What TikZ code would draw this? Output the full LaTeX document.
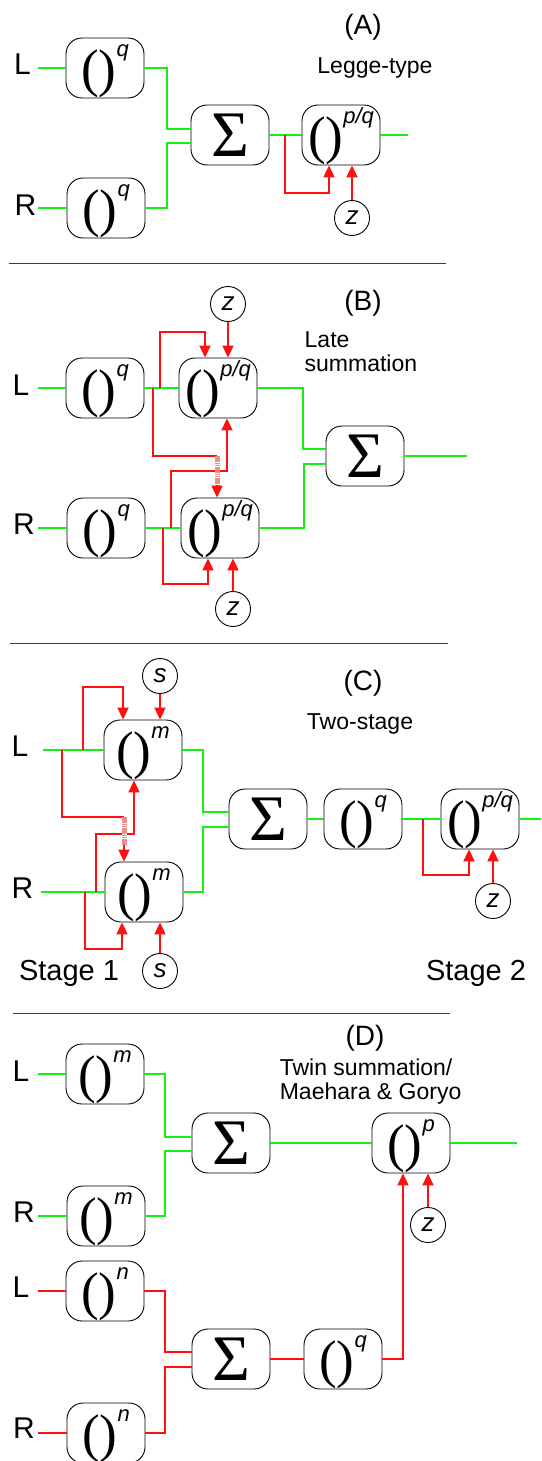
\documentclass[tikz,border=0pt]{standalone}
\usepackage{fontspec}
\setmainfont{Liberation Sans}
\newfontfamily\serf{Liberation Serif}
\usetikzlibrary{arrows.meta,calc}
\definecolor{lgreen}{RGB}{20,240,20}
\definecolor{lred}{RGB}{255,15,15}
\definecolor{hatchpink}{RGB}{240,140,130}
\definecolor{sepgray}{RGB}{60,60,60}
\newcommand\pw[1]{\raisebox{-18.5pt}{\serf\fontsize{53}{53}\selectfont()}\raisebox{11.5pt}{\fontsize{22}{22}\selectfont\itshape #1}}
\begin{document}
\begin{tikzpicture}[x=1pt,y=-1pt,
 bx/.style={draw, line width=0.9pt, rounded corners=16pt, minimum width=78pt, minimum height=60pt, inner sep=0pt, text height=0pt, text depth=0pt},
 sbx/.style={draw, line width=0.9pt, rounded corners=16pt, minimum width=78pt, minimum height=60pt, inner sep=0pt, font=\serf\fontsize{65}{65}\selectfont},
 cir/.style={draw, circle, line width=0.9pt, minimum size=35pt, inner sep=0pt, font=\fontsize{26}{26}\selectfont\itshape},
 lab/.style={inner sep=0pt, font=\fontsize{30}{30}\selectfont},
 head/.style={inner sep=0pt, font=\fontsize{28}{28}\selectfont},
 desc/.style={inner sep=0pt, font=\fontsize{23}{24}\selectfont, align=left},
 stg/.style={inner sep=0pt, font=\fontsize{29}{29}\selectfont},
 gl/.style={draw=lgreen, line width=2pt},
 rl/.style={draw=lred, line width=2pt},
 ra/.style={rl, -{Triangle[length=12pt,width=11pt]}},
 hat/.style={preaction={draw=white,line width=5pt}, draw=hatchpink, line width=5pt, dash pattern=on 1.5pt off 0.7pt},
 sep/.style={draw=sepgray, line width=1pt}
]
\fill[white] (0,0) rectangle (541,1461);
\useasboundingbox (0,0) rectangle (541,1461);

% ---------- Panel A ----------
\node[head] (hA) at (363,27) {(A)};
\node[desc] (dA) at (375,68) {Legge-type};
\node[lab] (LA) at (22.5,64) {L};
\node[lab] (RA) at (25.5,205) {R};
\node[bx] (LqA) at (105,68) {\pw{q}};
\node[bx] (RqA) at (106,208) {\pw{q}};
\node[sbx] (SA) at (230,135) {Σ};
\node[bx] (PA) at (341,135) {\pw{p/q}};
\node[cir] (zA) at (352,218) {z};
\coordinate (inLA) at (38,68);
\coordinate (inRA) at (38,208);
\coordinate (outA) at (408,135);
\coordinate (jA) at (285,135);
\draw[gl] (inLA) -- (LqA.west);
\draw[gl] (inRA) -- (RqA.west);
\draw[gl] (LqA.east) -- ++(23,0) |- ([yshift=6pt]SA.west);
\draw[gl] (RqA.east) -- ++(22,0) |- ([yshift=-8pt]SA.west);
\draw[gl] (SA.east) -- (PA.west);
\draw[gl] (PA.east) -- (outA);
\draw[ra] (jA) -- (285,193) -| ([xshift=-12pt]PA.south);
\draw[ra] (zA.north) -- (zA.north |- PA.south);
\draw[sep] (9,263) -- (446,263);

% ---------- Panel B ----------
\node[head] (hB) at (363,303) {(B)};
\node[desc, anchor=west] (dB) at (304.5,351.5) {Late\\summation};
\node[lab] (LB) at (21,385) {L};
\node[lab] (RB) at (24,524) {R};
\node[bx] (LqB) at (105,388) {\pw{q}};
\node[bx] (LpB) at (218,388) {\pw{p/q}};
\node[bx] (RqB) at (106,528) {\pw{q}};
\node[bx] (RpB) at (220,528) {\pw{p/q}};
\node[sbx] (SB) at (365,456) {Σ};
\node[cir] (zBt) at (228,304) {z};
\node[cir] (zBb) at (233,609) {z};
\coordinate (inLB) at (38,388);
\coordinate (inRB) at (38,528);
\coordinate (outB) at (467,456);
\coordinate (jB1) at (160,388);
\coordinate (jB2) at (153,388);
\coordinate (jB3) at (171,528);
\coordinate (jB4) at (163,528);
\coordinate (hB1) at (217,456);
\coordinate (hB2) at (217,485);
\draw[gl] (inLB) -- (LqB.west);
\draw[gl] (LqB.east) -- (LpB.west);
\draw[gl] (inRB) -- (RqB.west);
\draw[gl] (RqB.east) -- (RpB.west);
\draw[gl] (LpB.east) -- ++(46,0) |- ([yshift=7pt]SB.west);
\draw[gl] (RpB.east) -- ++(45,0) |- ([yshift=-8pt]SB.west);
\draw[gl] (SB.east) -- (outB);
\draw[ra] (jB1) -- (160,332) -| ([xshift=-13pt]LpB.north);
\draw[ra] (zBt.south) -- (zBt.south |- LpB.north);
\draw[rl] (jB2) |- (hB1);
\draw[ra] (jB3) -- (171,471) -| ([xshift=9pt]LpB.south);
\draw[hat] (hB1) -- (hB2);
\draw[ra] (hB2) -- ([xshift=-3pt]RpB.north);
\draw[ra] (jB4) -- (163,584) -| ([xshift=-12pt]RpB.south);
\draw[ra] (zBb.north) -- (zBb.north |- RpB.south);
\draw[sep] (10,643) -- (448,643);

% ---------- Panel C ----------
\node[head] (hC) at (363,683) {(C)};
\node[desc] (dC) at (360,724) {Two-stage};
\node[lab] (LC) at (20,746) {L};
\node[lab] (RC) at (22.5,888) {R};
\node[bx] (LmC) at (143,750) {\pw{m}};
\node[bx] (RmC) at (144,892) {\pw{m}};
\node[sbx] (SC) at (268,819) {Σ};
\node[bx] (qC) at (363,819) {\pw{q}};
\node[bx] (pC) at (480,819) {\pw{p/q}};
\node[cir] (sCt) at (160,676) {s};
\node[cir] (sCb) at (160,971) {s};
\node[cir] (zC) at (493,901) {z};
\node[stg] (st1) at (69,973) {Stage 1};
\node[stg] (st2) at (476,973) {Stage 2};
\coordinate (inLC) at (43,750);
\coordinate (inRC) at (41,892);
\coordinate (outC) at (541,819);
\coordinate (jC1) at (83,750);
\coordinate (jC2) at (62,750);
\coordinate (jC3) at (96,892);
\coordinate (jC4) at (85,892);
\coordinate (jC5) at (423,819);
\coordinate (hC1) at (124,817);
\coordinate (hC2) at (124,845);
\draw[gl] (inLC) -- (LmC.west);
\draw[gl] (inRC) -- (RmC.west);
\draw[gl] (LmC.east) -- ++(21,0) |- ([yshift=7pt]SC.west);
\draw[gl] (RmC.east) -- ++(20,0) |- ([yshift=-8pt]SC.west);
\draw[gl] (SC.east) -- (qC.west);
\draw[gl] (qC.east) -- (pC.west);
\draw[gl] (pC.east) -- (outC);
\draw[ra] (jC1) -- (83,687) -| ([xshift=-20pt]LmC.north);
\draw[ra] (sCt.south) -- (sCt.south |- LmC.north);
\draw[rl] (jC2) |- (hC1);
\draw[ra] (jC3) -- (96,834) -| ([xshift=-9pt]LmC.south);
\draw[hat] (hC1) -- (hC2);
\draw[ra] (hC2) -- ([xshift=-20pt]RmC.north);
\draw[ra] (jC4) -- (85,949) -| ([xshift=-22pt]RmC.south);
\draw[ra] (sCb.north) -- (sCb.north |- RmC.south);
\draw[ra] (jC5) -- (423,875) -| ([xshift=-11pt]pC.south);
\draw[ra] (zC.north) -- (zC.north |- pC.south);
\draw[sep] (13,1013) -- (450,1013);

% ---------- Panel D ----------
\node[head] (hD) at (365,1038) {(D)};
\node[desc, anchor=west] (dD) at (279.6,1081.5) {Twin summation/\\Maehara \& Goryo};
\node[lab] (LD1) at (21,1071) {L};
\node[lab] (RD1) at (24,1212) {R};
\node[lab] (LD2) at (21,1287) {L};
\node[lab] (RD2) at (24,1428) {R};
\node[bx] (LmD) at (105,1074) {\pw{m}};
\node[bx] (RmD) at (106,1216) {\pw{m}};
\node[sbx] (SD1) at (231,1143) {Σ};
\node[bx] (pD) at (411,1143) {\pw{p}};
\node[cir] (zD) at (428,1225) {z};
\node[bx] (LnD) at (105,1291) {\pw{n}};
\node[bx] (RnD) at (106,1433) {\pw{n}};
\node[sbx] (SD2) at (231,1359) {Σ};
\node[bx] (qD) at (343,1359) {\pw{q}};
\coordinate (inLD1) at (38,1074);
\coordinate (inRD1) at (38,1216);
\coordinate (inLD2) at (38,1291);
\coordinate (inRD2) at (38,1433);
\coordinate (outD) at (517,1143);
\draw[gl] (inLD1) -- (LmD.west);
\draw[gl] (inRD1) -- (RmD.west);
\draw[gl] (LmD.east) -- ++(21,0) |- ([yshift=6pt]SD1.west);
\draw[gl] (RmD.east) -- ++(20,0) |- ([yshift=-8pt]SD1.west);
\draw[gl] (SD1.east) -- (pD.west);
\draw[gl] (pD.east) -- (outD);
\draw[rl] (inLD2) -- (LnD.west);
\draw[rl] (inRD2) -- (RnD.west);
\draw[rl] (LnD.east) -- ++(21,0) |- ([yshift=7pt]SD2.west);
\draw[rl] (RnD.east) -- ++(20,0) |- ([yshift=-8pt]SD2.west);
\draw[rl] (SD2.east) -- (qD.west);
\draw[ra] (qD.east) -| ([xshift=-8pt]pD.south);
\draw[ra] (zD.north) -- (zD.north |- pD.south);
\end{tikzpicture}
\end{document}
